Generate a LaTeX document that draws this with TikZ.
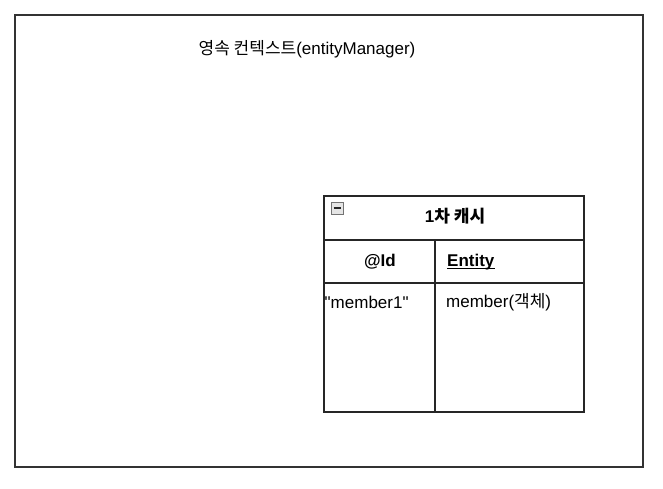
\documentclass[tikz,border=0pt]{standalone}
\usepackage{fontspec}
\setmainfont{Liberation Sans}[Ligatures=TeXReset]
\newfontfamily\cjk{Noto Sans CJK KR}
\begin{document}
\begin{tikzpicture}[x=1pt,y=-1pt,
  frame/.style={draw=black!80,line width=1.3pt},
  cell/.style={draw=black!85,line width=1.1pt},
  txt/.style={inner sep=0pt,font=\fontsize{17}{19}\selectfont}]
\useasboundingbox (0,0) rectangle (663,488);
\fill[white] (0,0) rectangle (663,488);
\draw[frame] (15,15) rectangle (643,467);
\node[txt,anchor=center] (title) at (307,49) {{\cjk 영속 컨텍스트}(entityManager)};
% table
\draw[cell] (324,196) rectangle (584,412);
\coordinate (r1l) at (324,240); \coordinate (r1r) at (584,240);
\coordinate (r2l) at (324,283); \coordinate (r2r) at (584,283);
\coordinate (ct) at (435,240); \coordinate (cb) at (435,412);
\draw[cell] (r1l) -- (r1r);
\draw[cell] (r2l) -- (r2r);
\draw[cell] (ct) -- (cb);
% minus icon
\draw[draw=black!55,fill=black!10,line width=0.8pt] (331,202) rectangle (343,214);
\draw[black!85,line width=1.6pt] (333.5,208) -- (340.5,208);
\node[txt,anchor=center,font=\bfseries\fontsize{17}{19}\selectfont] (hdr) at (455,216) {1{\cjk\bfseries 차 캐시}};
\node[txt,anchor=center,font=\bfseries\fontsize{17}{19}\selectfont] (id) at (380,262) {@Id};
\node[txt,anchor=west,font=\bfseries\fontsize{17}{19}\selectfont] (ent) at (447,262) {Entity};
\draw[black,line width=1.2pt] ([yshift=-2pt]ent.base west) -- ([yshift=-2pt]ent.base east);
\node[txt,anchor=west] (key) at (324.5,302) {"member1"};
\node[txt,anchor=west] (val) at (446,302) {member({\cjk 객체})};
\end{tikzpicture}
\end{document}
